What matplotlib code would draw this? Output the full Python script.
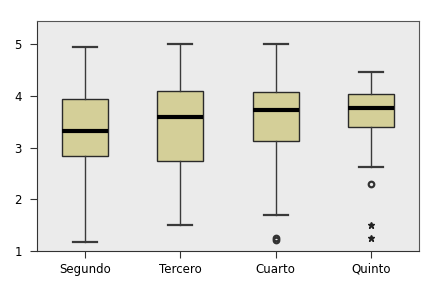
import matplotlib.pyplot as plt

# values
categories = ["Segundo", "Tercero", "Cuarto", "Quinto"]
whisker_low = [1.17, 1.51, 1.70, 2.62]
q1 = [2.84, 2.75, 3.13, 3.40]
median = [3.33, 3.59, 3.72, 3.76]
q3 = [3.95, 4.10, 4.08, 4.03]
whisker_high = [4.95, 5.00, 5.00, 4.46]
outliers = [[], [], [1.21, 1.25], [2.30]]
extremes = [[], [], [], [1.50, 1.26]]

stats = []
for i, name in enumerate(categories):
    stats.append({
        "label": name,
        "whislo": whisker_low[i],
        "q1": q1[i],
        "med": median[i],
        "q3": q3[i],
        "whishi": whisker_high[i],
        "fliers": outliers[i],
    })

fig = plt.figure(figsize=(4.4, 2.92), dpi=100)
ax = fig.add_axes([0.084, 0.140, 0.868, 0.788])
ax.set_facecolor("#ebebeb")

positions = list(range(1, len(categories) + 1))
ax.bxp(
    stats,
    positions=positions,
    widths=0.48,
    patch_artist=True,
    boxprops=dict(facecolor="#d4cf98", edgecolor="#2a2a2a", linewidth=1.0),
    medianprops=dict(color="black", linewidth=3.0),
    whiskerprops=dict(color="#3a3a3a", linewidth=1.0),
    capprops=dict(color="#3a3a3a", linewidth=1.6),
    capwidths=0.25,
    flierprops=dict(marker="o", markersize=4, markerfacecolor="none",
                    markeredgecolor="#333333", markeredgewidth=1.6),
)

for pos, vals in zip(positions, extremes):
    if vals:
        ax.plot([pos] * len(vals), vals, linestyle="none", marker="*",
                markersize=5, color="#222222")

ax.set_xlim(0.5, 4.5)
ax.set_ylim(1.0, 5.45)
ax.set_yticks([1, 2, 3, 4, 5])
ax.set_xticks(positions)
ax.set_xticklabels(categories)

for side in ["left", "bottom"]:
    ax.spines[side].set_color("#333333")
for side in ["top", "right"]:
    ax.spines[side].set_color("#555555")
ax.tick_params(axis="both", labelsize=8.5, color="#333333", length=5,
               labelcolor="black")
ax.tick_params(axis="y", pad=6)

fig.savefig("out.png", dpi=100)
